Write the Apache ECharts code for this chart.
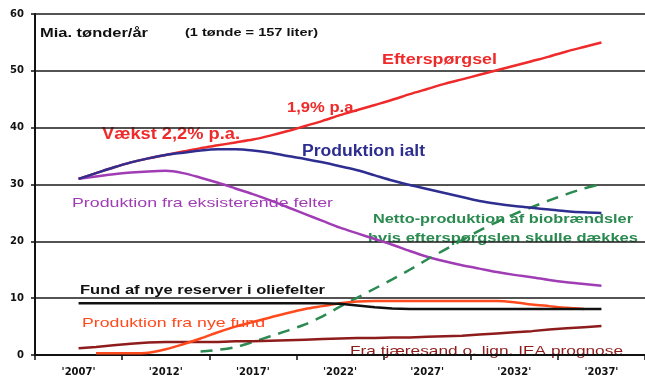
<!DOCTYPE html>
<html>
<head>
<meta charset="utf-8">
<script src="https://cdn.jsdelivr.net/npm/echarts@6/dist/echarts.min.js"></script>
<style>
  html, body { margin: 0; padding: 0; background: #ffffff; }
  #chart { width: 645px; height: 387px; }
</style>
</head>
<body>
<div id="chart"></div>
<script>
// Year slots on the category axis (two padding slots on each side of the data)
const axisYears = [2005, 2006, 2007, 2008, 2009, 2010, 2011, 2012, 2013, 2014,
  2015, 2016, 2017, 2018, 2019, 2020, 2021, 2022, 2023, 2024,
  2025, 2026, 2027, 2028, 2029, 2030, 2031, 2032, 2033, 2034,
  2035, 2036, 2037, 2038, 2039];

// Data years 2007..2037, values in mia. tønder/år
const dataYears = [2007, 2008, 2009, 2010, 2011, 2012, 2013, 2014, 2015, 2016,
  2017, 2018, 2019, 2020, 2021, 2022, 2023, 2024, 2025, 2026,
  2027, 2028, 2029, 2030, 2031, 2032, 2033, 2034, 2035, 2036, 2037];

const efterspoergsel = [31.0, 32.0, 33.0, 33.9, 34.6, 35.2, 35.8, 36.4, 36.9, 37.4,
  37.9, 38.6, 39.4, 40.3, 41.2, 42.2, 43.1, 44.0, 44.9, 45.9,
  46.8, 47.7, 48.5, 49.3, 50.1, 50.9, 51.7, 52.5, 53.4, 54.2, 55.0];

const produktionIalt = [31.0, 32.0, 33.0, 33.9, 34.6, 35.2, 35.6, 36.0, 36.2, 36.2,
  36.0, 35.6, 35.0, 34.5, 33.9, 33.2, 32.5, 31.6, 30.7, 29.9,
  29.2, 28.5, 27.8, 27.1, 26.6, 26.2, 25.9, 25.6, 25.3, 25.1, 25.0];

const eksisterendeFelter = [31.0, 31.4, 31.8, 32.1, 32.3, 32.4, 32.0, 31.2, 30.3, 29.3,
  28.3, 27.2, 26.0, 24.8, 23.6, 22.4, 21.4, 20.4, 19.4, 18.3,
  17.3, 16.5, 15.8, 15.2, 14.6, 14.1, 13.7, 13.2, 12.8, 12.5, 12.2];

const biobraendsler = [null, null, null, null, null, null, null, 0.6, 0.9, 1.4,
  2.3, 3.3, 4.3, 5.4, 6.8, 8.5, 10.1, 11.7, 13.3, 15.0,
  16.8, 18.5, 20.2, 21.9, 23.4, 24.8, 26.0, 27.2, 28.3, 29.3, 30.1];

const nyeReserver = [9.1, 9.1, 9.1, 9.1, 9.1, 9.1, 9.1, 9.1, 9.1, 9.1,
  9.1, 9.1, 9.1, 9.1, 9.1, 9.0, 8.7, 8.4, 8.2, 8.1,
  8.1, 8.1, 8.1, 8.1, 8.1, 8.1, 8.1, 8.1, 8.1, 8.1, 8.1];

const nyeFund = [null, 0.3, 0.3, 0.3, 0.4, 1.0, 1.9, 2.9, 4.0, 5.0,
  5.8, 6.6, 7.4, 8.1, 8.6, 9.1, 9.4, 9.5, 9.5, 9.5,
  9.5, 9.5, 9.5, 9.5, 9.5, 9.3, 8.9, 8.6, 8.3, 8.1, null];

const tjaeresand = [1.2, 1.4, 1.7, 2.0, 2.2, 2.3, 2.3, 2.3, 2.3, 2.4,
  2.4, 2.5, 2.6, 2.7, 2.8, 2.9, 3.0, 3.0, 3.1, 3.1,
  3.2, 3.3, 3.4, 3.6, 3.8, 4.0, 4.2, 4.5, 4.7, 4.9, 5.1];

const yTicks = { min: 0, max: 60, step: 10 };

// Map a data series onto the full axis slot list
function onAxis(values) {
  return axisYears.map(function (y) {
    const i = dataYears.indexOf(y);
    return i < 0 ? null : values[i];
  });
}

const FONT = '"Liberation Sans", Arial, sans-serif';
const AXIS_FONT = '"DejaVu Sans", sans-serif';

function lineSeries(name, values, color, extra) {
  return Object.assign({
    name: name,
    type: 'line',
    data: onAxis(values),
    showSymbol: false,
    symbol: 'none',
    smooth: 0.3,
    lineStyle: { color: color, width: 2.5 },
    silent: true,
    animation: false
  }, extra || {});
}

// Annotation text, stretched horizontally to a set width (wide, spaced lettering)
const measureCtx = document.createElement('canvas').getContext('2d');
function label(text, x, yMid, width, color, size, weight) {
  const font = (weight || 'bold') + ' ' + size + 'px ' + FONT;
  measureCtx.font = font;
  const natural = measureCtx.measureText(text).width;
  return {
    type: 'text',
    x: x,
    y: yMid,
    scaleX: width / natural,
    silent: true,
    style: {
      text: text,
      x: 0,
      y: 0,
      fill: color,
      font: font,
      align: 'left',
      verticalAlign: 'middle'
    }
  };
}

const chart = echarts.init(document.getElementById('chart'), null, { renderer: 'canvas' });

chart.setOption({
  backgroundColor: '#ffffff',
  animation: false,
  grid: { left: 35, top: 14, width: 616, height: 341, containLabel: false },
  xAxis: {
    type: 'category',
    data: axisYears,
    boundaryGap: true,
    axisLine: { lineStyle: { color: '#111', width: 2 } },
    axisTick: {
      show: true,
      length: 5,
      interval: function (i) { return i % 5 === 0; },
      lineStyle: { color: '#111', width: 1.5 }
    },
    axisLabel: {
      interval: function (i) { return i % 5 === 2; },
      margin: 12,
      color: '#111',
      fontFamily: AXIS_FONT,
      fontWeight: 'bold',
      fontSize: 10,
      formatter: function (v) { return "'" + v + "'"; }
    },
    splitLine: { show: false }
  },
  yAxis: {
    type: 'value',
    min: yTicks.min,
    max: yTicks.max,
    interval: yTicks.step,
    axisLine: { show: true, lineStyle: { color: '#111', width: 2 } },
    axisTick: { show: true, length: 4, lineStyle: { color: '#111', width: 1.5 } },
    axisLabel: {
      margin: 11,
      color: '#111',
      fontFamily: AXIS_FONT,
      fontWeight: 'bold',
      fontSize: 10
    },
    splitLine: { show: true, lineStyle: { color: '#1a1a1a', width: 1.6 } }
  },
  series: [
    lineSeries('Efterspørgsel', efterspoergsel, '#ee2a2a'),
    lineSeries('Produktion fra eksisterende felter', eksisterendeFelter, '#a03cb4'),
    lineSeries('Netto-produktion af biobrændsler', biobraendsler, '#2a8a50', {
      lineStyle: { color: '#2a8a50', width: 2.5, type: [12, 8] }
    }),
    lineSeries('Fra tjæresand o. lign.', tjaeresand, '#8e1c1c', { smooth: false }),
    lineSeries('Produktion fra nye fund', nyeFund, '#ff4a1e'),
    lineSeries('Fund af nye reserver i oliefelter', nyeReserver, '#111111', { smooth: false }),
    lineSeries('Produktion ialt', produktionIalt, '#2e2e90')
  ],
  graphic: [
    label('Mia. tønder/år', 40, 33, 108, '#111', 13, 'bold'),
    label('(1 tønde = 157 liter)', 185, 33, 133, '#111', 10, 'bold'),
    label('Efterspørgsel', 382, 60, 115, '#ee2a2a', 15, 'bold'),
    label('1,9% p.a.', 287, 108, 71, '#ee2a2a', 15, 'bold'),
    label('Vækst 2,2% p.a.', 102, 135, 138, '#ee2a2a', 16, 'bold'),
    label('Produktion ialt', 302, 152, 123, '#2e2e90', 16, 'bold'),
    label('Produktion fra eksisterende felter', 72, 203, 261, '#a03cb4', 13, 'normal'),
    label('Netto-produktion af biobrændsler', 373, 219, 260, '#2a8a50', 13, 'bold'),
    label('hvis efterspørgslen skulle dækkes', 368, 238, 270, '#2a8a50', 13, 'bold'),
    label('Fund af nye reserver i oliefelter', 80, 290, 245, '#111', 13, 'bold'),
    label('Produktion fra nye fund', 82, 323, 183, '#ff4a1e', 13, 'normal'),
    label('Fra tjæresand o. lign. IEA prognose', 350, 351, 273, '#8e1c1c', 13, 'normal')
  ]
});
</script>
</body>
</html>
